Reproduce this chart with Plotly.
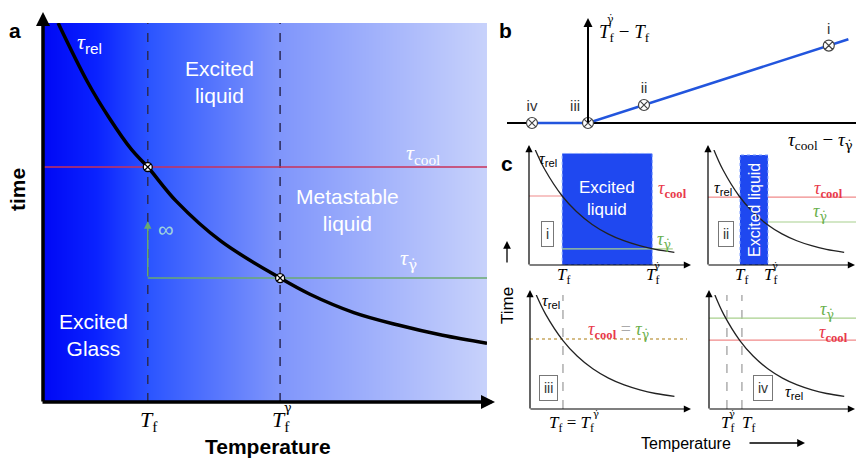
import plotly.graph_objects as go

# ---------------- data ----------------
# panel a : relaxation time vs temperature (schematic units 0-100)
a_temp = [3.4, 10, 15, 20, 23.6, 30, 40, 53.4, 60, 70, 80, 90, 100]
a_tau_rel = [100, 84.5, 74.8, 66.5, 62, 53, 42.5, 32.7, 28.5, 23.6, 20.3, 17.6, 15.5]
a_Tf = 23.6
a_Tf_gd = 53.4
a_tau_cool = 62
a_tau_gd = 32.7
grad_pos = [0, 12, 24, 53, 100]
grad_colors = ['#0008f5', '#0a22ff', '#2c55ff', '#7f95fb', '#c8d2fb']

# panel b : Tf^gd - Tf vs tau_cool - tau_gd
b_x = [-1, 0, 4.65]
b_y = [0, 0, 4.65]
b_pt_x = [4.3, 1, 0, -1]
b_pt_y = [4.3, 1, 0, 0]
b_pt_labels = ['i', 'ii', 'iii', 'iv']

# panel c : four cases i-iv
c_temp = [4, 10, 21, 30, 40, 50, 60, 70, 80, 92]
c_tau_rel = [100, 83, 60, 46.5, 35.3, 27.1, 21.1, 16.8, 13.6, 11]
c_Tf = [21, 21.6, 21, 22.4]
c_Tf_gd = [78, 40.5, 21, 12.2]
c_tau_cool = [60, 59, 61.4, 60.5]
c_tau_gd = [14, 37.4, 61.4, 79.8]
c_rect_top = [97, 95.7]

# ---------------- helpers ----------------
W, H = 856, 458
SANS = 'Liberation Sans, Arial, sans-serif'
SERIF = 'Liberation Serif, DejaVu Serif, serif'
RED_T = '#e8394a'
GRN_T = '#6ab04c'
GD = "<span style='font-family:DejaVu Serif'>γ̇</span>"


def dom_x(x0, x1):
    return [x0 / W, x1 / W]


def dom_y(y0, y1):
    return [1 - y1 / H, 1 - y0 / H]


annotations = []
shapes = []


def txt(x, y, text, size=14, color='black', family=SANS, **kw):
    annotations.append(dict(x=x / W, y=1 - y / H, xref='paper', yref='paper', text=text,
                            showarrow=False, font=dict(size=size, color=color, family=family),
                            xanchor=kw.pop('xanchor', 'center'), yanchor=kw.pop('yanchor', 'middle'), **kw))


def arrow(x0, y0, x1, y1, width=1.0, color='black', head=2, size=1.0):
    annotations.append(dict(x=x1 / W, y=1 - y1 / H, xref='paper', yref='paper', text='',
                            showarrow=True, ax=x0 - x1, ay=y0 - y1, arrowhead=head,
                            arrowsize=size, arrowwidth=width, arrowcolor=color))


def tf(x, y, size=20, sup=True, color='black'):
    txt(x, y, '<i>T</i><sub>f</sub>', size=size, family=SERIF, color=color)
    if sup:
        txt(x + size * 0.3, y - size * 0.6, GD, size=size * 0.58, family=SERIF, color=color)


def box(x, y, text):
    txt(x, y, text, size=14, color='#333', bordercolor='#777', borderwidth=1,
        borderpad=4, bgcolor='white')


fig = go.Figure()

# ---------------- panel a ----------------
fig.add_trace(go.Heatmap(x=grad_pos, y=[0, 100], z=[grad_pos, grad_pos],
                         colorscale=[[p / 100, c] for p, c in zip(grad_pos, grad_colors)],
                         zsmooth='best', showscale=False, hoverinfo='skip',
                         xaxis='x', yaxis='y'))
for xv in (a_Tf, a_Tf_gd):
    fig.add_trace(go.Scatter(x=[xv, xv], y=[0, 100], mode='lines',
                             line=dict(color='#2a2a55', width=1.5, dash='dash'),
                             xaxis='x', yaxis='y'))
fig.add_trace(go.Scatter(x=[0, 100], y=[a_tau_cool, a_tau_cool], mode='lines',
                         line=dict(color='#c8325a', width=1.6), xaxis='x', yaxis='y'))
fig.add_trace(go.Scatter(x=[a_Tf, 100], y=[a_tau_gd, a_tau_gd], mode='lines',
                         line=dict(color='#6aaa70', width=1.6), xaxis='x', yaxis='y'))
fig.add_trace(go.Scatter(x=a_temp, y=a_tau_rel, mode='lines', line_shape='spline',
                         line=dict(color='black', width=3.5), xaxis='x', yaxis='y'))
fig.add_trace(go.Scatter(x=[a_Tf, a_Tf_gd], y=[a_tau_cool, a_tau_gd], mode='markers',
                         marker=dict(symbol='circle-x', size=9, color='white',
                                     line=dict(color='black', width=1.3)),
                         xaxis='x', yaxis='y'))
annotations.append(dict(x=a_Tf, y=a_tau_gd + 15, xref='x', yref='y', ax=a_Tf, ay=a_tau_gd,
                        axref='x', ayref='y', showarrow=True, text='', arrowhead=2,
                        arrowsize=1, arrowwidth=1.5, arrowcolor='#6aaa70'))

arrow(43, 403, 43, 12, width=3.5, size=0.8)
arrow(41, 402, 495, 402, width=3.5, size=0.8)

txt(15, 30, '<b>a</b>', size=21)
txt(18, 190, '<b>time</b>', size=21, textangle=-90)
txt(268, 446, '<b>Temperature</b>', size=21)
tf(149, 421, size=22, sup=False)
tf(281, 421, size=22, sup=True)
txt(89, 43, "<i>τ</i><sub><span style='font-family:Liberation Sans'>rel</span></sub>",
    size=22, color='white', family=SERIF)
txt(220, 82, 'Excited<br>liquid', size=21, color='white')
txt(423, 154, '<i>τ</i><sub>cool</sub>', size=22, color='white', family=SERIF)
txt(347, 210, 'Metastable<br>liquid', size=21, color='white')
txt(408, 259, '<i>τ</i><sub>' + GD + '</sub>', size=22, color='white', family=SERIF)
txt(93, 335, 'Excited<br>Glass', size=21, color='white')
txt(166, 229, '∞', size=22, color='#9fd3dc')

# ---------------- panel b ----------------
fig.add_trace(go.Scatter(x=b_x, y=b_y, mode='lines', line=dict(color='#2255dd', width=2.5),
                         xaxis='x2', yaxis='y2'))
fig.add_trace(go.Scatter(x=b_pt_x, y=b_pt_y, mode='markers+text', text=b_pt_labels,
                         textposition=['top center', 'top center', 'top left', 'top center'],
                         textfont=dict(size=15, color='#333', family=SANS),
                         marker=dict(symbol='circle-x', size=11, color='white',
                                     line=dict(color='#444', width=1.2)),
                         xaxis='x2', yaxis='y2'))
shapes.append(dict(type='line', xref='paper', yref='paper', x0=507 / W, x1=1, y0=1 - 123 / H,
                   y1=1 - 123 / H, line=dict(color='black', width=2), layer='below'))
arrow(588, 124, 588, 18, width=2, size=0.9)
txt(505, 30, '<b>b</b>', size=21)
txt(597, 33, '<i>T</i><sub>f</sub> − <i>T</i><sub>f</sub>', size=19, family=SERIF, xanchor='left')
txt(610, 20, GD, size=11, family=SERIF)
txt(855, 141, '<i>τ</i><sub>cool</sub> − <i>τ</i><sub>' + GD + '</sub>', size=19, family=SERIF,
    xanchor='right')

# ---------------- panel c ----------------
c_dom = [((529, 687), (150, 265)), ((708, 856), (150, 265)),
         ((530, 687), (295, 409)), ((709, 856), (295, 409))]
for i, ((x0, x1), (y0, y1)) in enumerate(c_dom):
    xa, ya = 'x%d' % (i + 3), 'y%d' % (i + 3)
    Tf, Tg, tc, tg = c_Tf[i], c_Tf_gd[i], c_tau_cool[i], c_tau_gd[i]
    if i < 2:
        shapes.append(dict(type='rect', xref=xa, yref=ya, x0=Tf, x1=Tg, y0=0, y1=c_rect_top[i],
                           fillcolor='#1f48f0', line=dict(color='#86a6ff', width=1, dash='dot'),
                           layer='below'))
    if i == 0:
        fig.add_trace(go.Scatter(x=[0, Tf], y=[tc, tc], mode='lines',
                                 line=dict(color='#f08a8a', width=1.2), xaxis=xa, yaxis=ya))
        fig.add_trace(go.Scatter(x=[Tf, 91], y=[tg, tg], mode='lines',
                                 line=dict(color='#a8d08d', width=1.2), xaxis=xa, yaxis=ya))
    elif i == 1:
        fig.add_trace(go.Scatter(x=[0, Tf, None, Tg, 100], y=[tc, tc, None, tc, tc], mode='lines',
                                 line=dict(color='#f08a8a', width=1.2), xaxis=xa, yaxis=ya))
        fig.add_trace(go.Scatter(x=[Tg, 100], y=[tg, tg], mode='lines',
                                 line=dict(color='#a8d08d', width=1.2), xaxis=xa, yaxis=ya))
    elif i == 2:
        fig.add_trace(go.Scatter(x=[Tf, Tf], y=[0, 100], mode='lines',
                                 line=dict(color='#999', width=1.2, dash='dash'), xaxis=xa, yaxis=ya))
        fig.add_trace(go.Scatter(x=[0, 100], y=[tc, tc], mode='lines',
                                 line=dict(color='#c8a860', width=1.4, dash='dot'), xaxis=xa, yaxis=ya))
    else:
        for xv in (Tg, Tf):
            fig.add_trace(go.Scatter(x=[xv, xv], y=[0, 100], mode='lines',
                                     line=dict(color='#999', width=1.2, dash='dash'), xaxis=xa, yaxis=ya))
        fig.add_trace(go.Scatter(x=[0, 100], y=[tg, tg], mode='lines',
                                 line=dict(color='#a8d08d', width=1.2), xaxis=xa, yaxis=ya))
        fig.add_trace(go.Scatter(x=[0, 100], y=[tc, tc], mode='lines',
                                 line=dict(color='#f08a8a', width=1.2), xaxis=xa, yaxis=ya))
    fig.add_trace(go.Scatter(x=c_temp, y=c_tau_rel, mode='lines', line_shape='spline',
                             line=dict(color='#222', width=1.3), xaxis=xa, yaxis=ya))
    # axes arrows
    arrow(x0, y1 + 1, x0, y0 - 5, width=1.2, size=1.2)
    arrow(x0 - 1, y1, min(x1 + 4, 855), y1, width=1.2, size=1.2)

txt(507, 163, '<b>c</b>', size=21)
txt(507, 306, 'Time', size=17, textangle=-90)
arrow(507, 264, 507, 241, width=1.3, size=1.2)
txt(686, 443, 'Temperature', size=16)
arrow(748, 443, 805, 443, width=1.3, size=1.2)

SUB_REL = "<i>τ</i><sub><span style='font-family:Liberation Sans'>rel</span></sub>"
TAU_GD = '<i>τ</i><sub>' + GD + '</sub>'
# c-i
txt(548, 160, SUB_REL, size=16, family=SERIF)
txt(607, 198, 'Excited<br>liquid', size=17, color='white')
txt(672, 190, '<i>τ</i><sub><b>cool</b></sub>', size=18, color=RED_T, family=SERIF)
txt(664, 241, TAU_GD, size=18, color=GRN_T, family=SERIF)
box(547, 234, 'i')
tf(563, 276, size=17, sup=False)
tf(652, 276, size=17, sup=True)
# c-ii
txt(723, 188, SUB_REL, size=16, family=SERIF)
txt(754, 210, 'Excited liquid', size=16, color='white', textangle=-90)
txt(828, 189, '<i>τ</i><sub><b>cool</b></sub>', size=18, color=RED_T, family=SERIF)
txt(820, 213, TAU_GD, size=18, color=GRN_T, family=SERIF)
box(726, 234, 'ii')
tf(741, 276, size=17, sup=False)
tf(770, 276, size=17, sup=True)
# c-iii
txt(551, 301, SUB_REL, size=16, family=SERIF)
txt(618, 330, "<span style='color:%s'><i>τ</i><sub><b>cool</b></sub></span>"
              "<span style='color:#aaa'> = </span>"
              "<span style='color:%s'>%s</span>" % (RED_T, GRN_T, TAU_GD),
    size=18, family=SERIF)
box(548, 388, 'iii')
txt(571, 424, '<i>T</i><sub>f</sub> = <i>T</i><sub>f</sub>', size=17, family=SERIF)
txt(596, 413, GD, size=10, family=SERIF)
# c-iv
txt(827, 310, TAU_GD, size=18, color=GRN_T, family=SERIF)
txt(833, 333, '<i>τ</i><sub><b>cool</b></sub>', size=18, color=RED_T, family=SERIF)
txt(794, 392, SUB_REL, size=16, family=SERIF)
box(763, 388, 'iv')
tf(727, 424, size=17, sup=True)
tf(748, 424, size=17, sup=False)

# ---------------- layout ----------------
ax_common = dict(visible=False, fixedrange=True)
layout = dict(
    width=W, height=H, margin=dict(l=0, r=0, t=0, b=0),
    paper_bgcolor='white', plot_bgcolor='white', showlegend=False,
    xaxis=dict(domain=dom_x(43, 487), range=[0, 100], **ax_common),
    yaxis=dict(domain=dom_y(23, 402), range=[0, 100], **ax_common),
    xaxis2=dict(domain=dom_x(507, 856), range=[-1.446, 4.786], **ax_common),
    yaxis2=dict(domain=dom_y(20, 140), range=[-0.944, 5.72], **ax_common),
    annotations=annotations, shapes=shapes,
)
for i, ((x0, x1), (y0, y1)) in enumerate(c_dom):
    layout['xaxis%d' % (i + 3)] = dict(domain=dom_x(x0, x1), range=[0, 100], **ax_common)
    layout['yaxis%d' % (i + 3)] = dict(domain=dom_y(y0, y1), range=[0, 100], **ax_common)
fig.update_layout(**layout)
fig.write_html('out.html', config={'displayModeBar': False},
               post_script="document.body.style.margin='0';document.body.style.overflow='hidden';")
